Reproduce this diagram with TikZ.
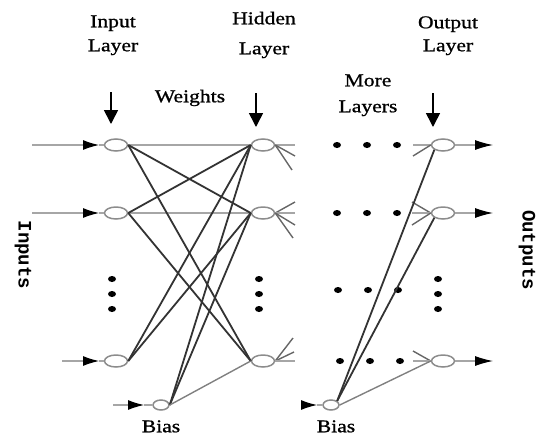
\documentclass[tikz,border=0pt]{standalone}
\usepackage{fontspec}
\setmainfont{Liberation Serif}
\newfontfamily\labfont[FakeStretch=1.2,FakeBold=1]{Liberation Serif}
\newfontfamily\sidefont{Liberation Mono}
\usetikzlibrary{arrows.meta,shapes.geometric}

\tikzset{
  neuron/.style={ellipse, draw=black!45, line width=1.5pt, fill=white,
    minimum width=23pt, minimum height=12pt, inner sep=0pt},
  biasunit/.style={neuron, minimum width=16pt, minimum height=10pt},
  wire/.style={line width=1.8pt, black!80},
  softwire/.style={line width=1.4pt, black!50},
  stub/.style={line width=1.4pt, black!60},
  faint/.style={line width=1.1pt, black!35},
  feed/.style={faint, -{Latex[length=16pt,width=10pt,color=black]}},
  outfeed/.style={faint, -{Latex[length=18pt,width=10pt,color=black]}},
  drop/.style={line width=1.6pt, -{Triangle[length=14pt,width=14pt]}},
  dotmark/.style={ellipse, fill=black, minimum width=8pt, minimum height=6pt, inner sep=0pt},
  heading/.style={font=\labfont\fontsize{18}{20}\selectfont,
    text height=12.5pt, text depth=4pt, inner sep=0pt},
  sidelabel/.style={font=\sidefont\bfseries\fontsize{19}{20}\selectfont,
    rotate=-90, inner sep=0pt},
}

\begin{document}
\begin{tikzpicture}[x=1pt,y=-1pt]
\useasboundingbox (0,0) rectangle (539,437);

% ---- headings ----
\node[heading] (tIn1)  at (113,23) {Input};
\node[heading] (tIn2)  at (113,47) {Layer};
\node[heading] (tHid1) at (264,20) {Hidden};
\node[heading] (tHid2) at (264,50) {Layer};
\node[heading] (tOut1) at (448,24) {Output};
\node[heading] (tOut2) at (448,47) {Layer};
\node[heading] (tW)    at (190,98) {Weights};
\node[heading] (tM1)   at (368,82) {More};
\node[heading] (tM2)   at (368,108) {Layers};
\node[heading] (tB1)   at (161,428) {Bias};
\node[heading] (tB2)   at (336,428) {Bias};
\node[sidelabel] (tInputs)  at (23,255) {Inputs};
\node[sidelabel] (tOutputs) at (527,250) {Outputs};

% ---- pointers to the layers ----
\coordinate (pa1) at (111,92);  \coordinate (pa2) at (111,124);
\coordinate (pb1) at (256,93);  \coordinate (pb2) at (256,127);
\coordinate (pc1) at (433,93);  \coordinate (pc2) at (433,127);
\draw[drop] (pa1) -- (pa2);
\draw[drop] (pb1) -- (pb2);
\draw[drop] (pc1) -- (pc2);

% ---- units ----
\node[neuron] (in1) at (116,145) {};
\node[neuron] (in2) at (116,213) {};
\node[neuron] (in3) at (116,361) {};
\node[neuron] (h1)  at (263,145) {};
\node[neuron] (h2)  at (263,213) {};
\node[neuron] (h3)  at (263,361) {};
\node[neuron] (o1)  at (443,145) {};
\node[neuron] (o2)  at (443,213) {};
\node[neuron] (o3)  at (443,361) {};
\node[biasunit] (b1) at (161,405) {};
\node[biasunit] (b2) at (331,405) {};

% ---- ellipsis dots ----
\foreach \n/\x/\y in {a/112/279, b/112/294, c/112/309,
                      d/259/279, e/259/294, f/259/309,
                      g/438/279, h/438/294, i/438/309,
                      j/337/145, k/367/145, l/397/145,
                      m/337/213, n/367/213, o/397/213,
                      p/338/290, q/368/290, r/398/290,
                      s/340/361, t/370/361, u/400/361}
  \node[dotmark] (dot\n) at (\x,\y) {};

% ---- input feeds ----
\coordinate (s1) at (32,145);  \coordinate (a1) at (99,145);
\coordinate (s2) at (32,213);  \coordinate (a2) at (99,213);
\coordinate (s3) at (62,361);  \coordinate (a3) at (99,361);
\draw[feed] (s1) -- (a1);  \draw[faint] (a1) -- (in1.west);
\draw[feed] (s2) -- (a2);  \draw[faint] (a2) -- (in2.west);
\draw[feed] (s3) -- (a3);  \draw[faint] (a3) -- (in3.west);
\coordinate (sb1) at (113,405); \coordinate (ab1) at (144,405);
\coordinate (sb2) at (301,405); \coordinate (ab2) at (317,405);
\draw[feed] (sb1) -- (ab1); \draw[faint] (ab1) -- (b1.west);
\draw[feed] (sb2) -- (ab2); \draw[faint] (ab2) -- (b2.west);

% ---- input to hidden weights ----
\draw[faint] (in1.east) -- (h1.west);
\draw[faint] (in2.east) -- (h2.west);
\draw[wire] (in1.east) -- (h2.west);
\draw[wire] (in1.east) -- (h3.west);
\draw[wire] (in2.east) -- (h1.west);
\draw[wire] (in2.east) -- (h3.west);
\draw[wire] (in3.east) -- (h1.west);
\draw[wire] (in3.east) -- (h2.west);
\draw[wire] (b1.east) -- (h1.west);
\draw[wire] (b1.east) -- (h2.west);
\draw[softwire] (b1.east) -- (h3.west);

% ---- hidden outputs towards further layers ----
\coordinate (f1a) at (295,145); \coordinate (f1b) at (295,156); \coordinate (f1c) at (292,170);
\coordinate (f2a) at (295,202); \coordinate (f2b) at (295,213); \coordinate (f2c) at (295,225); \coordinate (f2d) at (293,238);
\coordinate (f3a) at (293,338); \coordinate (f3b) at (294,352); \coordinate (f3c) at (295,361);
\draw[faint] (h1.east) -- (f1a);
\draw[stub]  (h1.east) -- (f1b);
\draw[stub]  (h1.east) -- (f1c);
\draw[stub]  (h2.east) -- (f2a);
\draw[faint] (h2.east) -- (f2b);
\draw[stub]  (h2.east) -- (f2c);
\draw[stub]  (h2.east) -- (f2d);
\draw[stub]  (h3.east) -- (f3a);
\draw[stub]  (h3.east) -- (f3b);
\draw[faint] (h3.east) -- (f3c);

% ---- inputs arriving at the output layer ----
\coordinate (g1a) at (413,145); \coordinate (g1b) at (413,156);
\coordinate (g2a) at (412,202); \coordinate (g2b) at (412,213); \coordinate (g2c) at (412,225);
\coordinate (g3a) at (413,351); \coordinate (g3b) at (413,361);
\draw[faint] (g1a) -- (o1.west);
\draw[stub]  (g1b) -- (o1.west);
\draw[stub]  (g2a) -- (o2.west);
\draw[faint] (g2b) -- (o2.west);
\draw[stub]  (g2c) -- (o2.west);
\draw[stub]  (g3a) -- (o3.west);
\draw[faint] (g3b) -- (o3.west);
\draw[wire] (b2.north east) -- (o1.south west);
\draw[wire] (b2.north east) -- (o2.south west);
\draw[softwire] (b2.east) -- (o3.west);

% ---- outputs ----
\coordinate (e1) at (493,145);
\coordinate (e2) at (493,213);
\coordinate (e3) at (493,361);
\draw[outfeed] (o1.east) -- (e1);
\draw[outfeed] (o2.east) -- (e2);
\draw[outfeed] (o3.east) -- (e3);
\end{tikzpicture}
\end{document}
